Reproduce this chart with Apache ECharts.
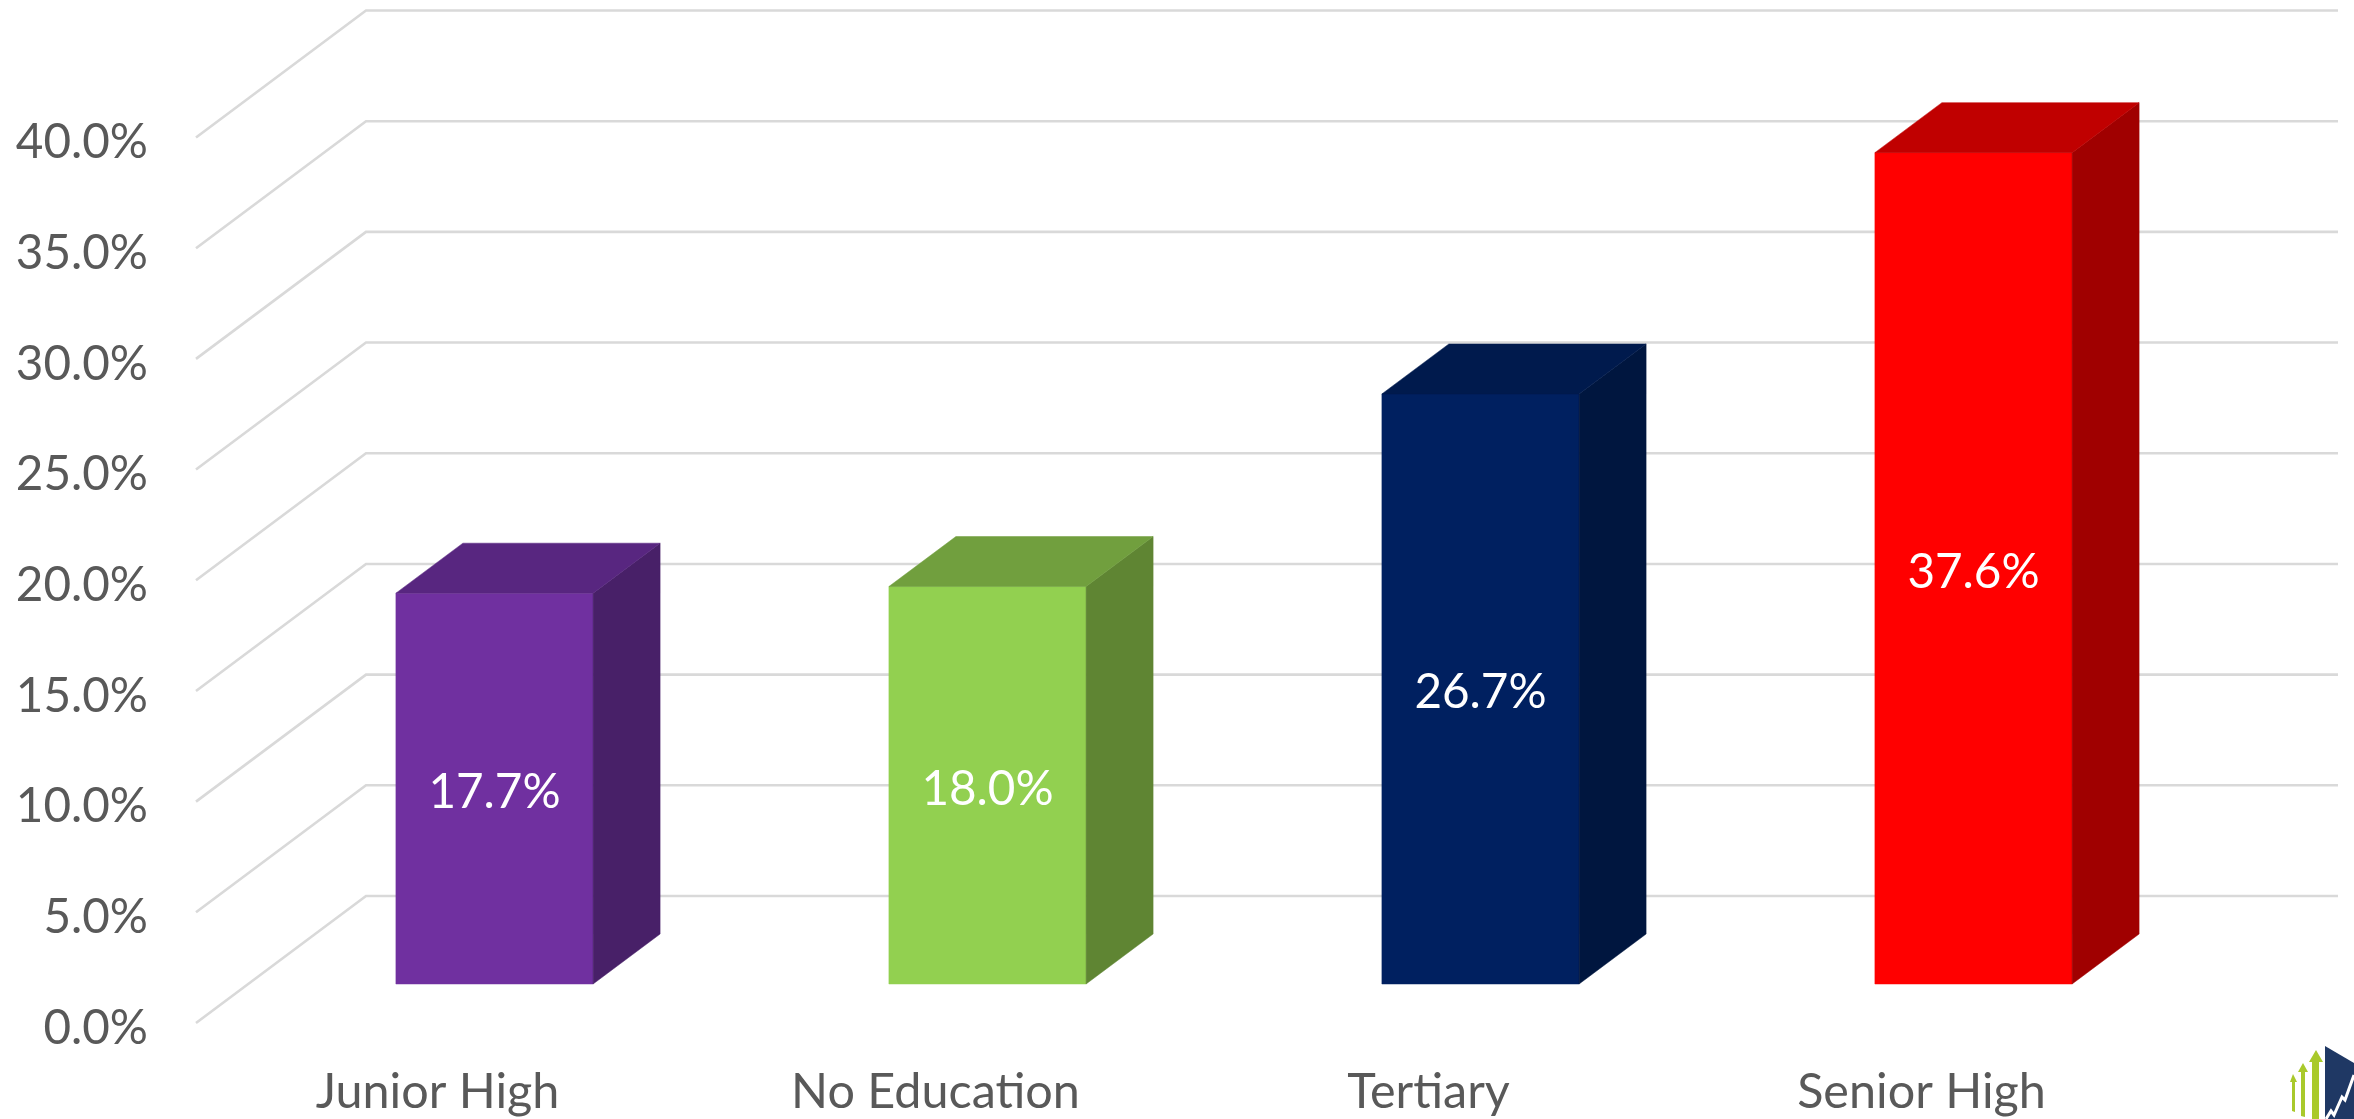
<!DOCTYPE html>
<html>
<head>
<meta charset="utf-8">
<style>html,body{margin:0;padding:0;background:#fff}#c{width:2354px;height:1119px}</style>
<script src="https://cdn.jsdelivr.net/npm/echarts@6/dist/echarts.min.js"></script>
</head>
<body>
<div id="c"></div>
<script>
const categories = ['Junior High', 'No Education', 'Tertiary', 'Senior High'];
const shares = [17.7, 18.0, 26.7, 37.6];
const gridTicks = [0, 5, 10, 15, 20, 25, 30, 35, 40];

const frontColors = ['#7030A0', '#92D050', '#002060', '#FF0000'];
const sideColors = ['#482068', '#5F8533', '#00163F', '#A00000'];
const topColors = ['#582680', '#719F3E', '#001A4D', '#C00000'];

const FONT = 'Lato, Carlito, "Open Sans", sans-serif';
const WALL_DX = 170, WALL_DY = -127;      // floor depth of the 3D wall
const BAR_DX = 52, BAR_DY = -39;          // bar front plane relative to axis plane
const DEPTH_DX = 67, DEPTH_DY = -50;      // bar depth

function renderGrid(params, api) {
  const cs = params.coordSys;
  const y = api.coord([0, api.value(0)])[1];
  return {
    type: 'polyline',
    silent: true,
    shape: { points: [
      [cs.x, y],
      [cs.x + WALL_DX, y + WALL_DY],
      [cs.x + cs.width + WALL_DX, y + WALL_DY]
    ] },
    style: { fill: null, stroke: '#D9D9D9', lineWidth: 2.6 }
  };
}

function renderBar(params, api) {
  const i = api.value(0), v = api.value(1);
  const top = api.coord([i, v]);
  const base = api.coord([i, 0]);
  const w = api.size([1, 0])[0] * 0.4;
  const l = top[0] + BAR_DX - w / 2, r = l + w;
  const t = top[1] + BAR_DY + 1, b = base[1] + BAR_DY;
  const poly = (pts, fill) => ({
    type: 'polygon', shape: { points: pts },
    style: { fill: fill, stroke: fill, lineWidth: 0.5 }
  });
  return {
    type: 'group',
    children: [
      poly([[l, b], [r, b], [r, t], [l, t]], frontColors[i]),
      poly([[r, b], [r + DEPTH_DX, b + DEPTH_DY], [r + DEPTH_DX, t + DEPTH_DY], [r, t]], sideColors[i]),
      poly([[l, t], [r, t], [r + DEPTH_DX, t + DEPTH_DY], [l + DEPTH_DX, t + DEPTH_DY]], topColors[i]),
      {
        type: 'text',
        style: {
          x: (l + r) / 2, y: (t + b) / 2 + 4,
          text: v.toFixed(1) + '%',
          fill: '#FFFFFF', font: '47.6px ' + FONT,
          align: 'center', verticalAlign: 'middle'
        }
      }
    ]
  };
}

const chart = echarts.init(document.getElementById('c'), null, { renderer: 'canvas' });
chart.setOption({
  animation: false,
  backgroundColor: '#FFFFFF',
  grid: { left: 196, top: 137.5, width: 1972, height: 885.5, containLabel: false },
  xAxis: {
    type: 'category',
    data: categories,
    axisLine: { show: false },
    axisTick: { show: false },
    axisLabel: {
      color: '#595959', fontSize: 48.5, fontFamily: FONT, margin: 45,
      formatter: (v, i) => i === 0 ? '{j|' + v + '}' : v,
      rich: { j: { color: '#595959', fontSize: 48.5, fontFamily: FONT, padding: [0, 10, 0, 0] } }
    }
  },
  yAxis: {
    type: 'value', min: 0, max: 40, interval: 5,
    axisLine: { show: false },
    axisTick: { show: false },
    splitLine: { show: false },
    axisLabel: {
      color: '#595959', fontFamily: FONT, margin: 48,
      formatter: v => '{a|' + v.toFixed(1) + '%}',
      rich: { a: { color: '#595959', fontSize: 47.6, fontFamily: FONT, padding: [11, 0, 0, 0] } }
    }
  },
  series: [
    {
      type: 'custom', coordinateSystem: 'cartesian2d', clip: false, silent: true, z: 1,
      renderItem: renderGrid,
      encode: { y: 0 },
      data: gridTicks.map(v => [v])
    },
    {
      type: 'custom', coordinateSystem: 'cartesian2d', clip: false, silent: true, z: 2,
      renderItem: renderBar,
      encode: { x: 0, y: 1 },
      data: categories.map((c, i) => [i, shares[i]])
    }
  ],
  graphic: [
    { type: 'polygon', silent: true, shape: { points: [[2325, 1046], [2354, 1063], [2354, 1119], [2325, 1119]] }, style: { fill: '#1F3864' } },
    { type: 'polyline', silent: true, shape: { points: [[2326, 1119], [2331, 1111], [2334, 1115], [2342, 1097], [2345, 1100], [2354, 1075]] }, style: { fill: null, stroke: '#FFFFFF', lineWidth: 3 } },
    { type: 'polygon', silent: true, shape: { points: [[2316, 1050], [2323, 1062], [2319, 1062], [2319, 1119], [2312, 1119], [2312, 1062], [2309, 1062]] }, style: { fill: '#A9C92B' } },
    { type: 'polygon', silent: true, shape: { points: [[2303, 1063], [2308, 1072], [2305, 1072], [2305, 1117], [2301, 1116], [2301, 1072], [2298, 1072]] }, style: { fill: '#A9C92B' } },
    { type: 'polygon', silent: true, shape: { points: [[2293, 1074], [2297, 1082], [2295, 1082], [2295, 1112], [2292, 1111], [2292, 1082], [2290, 1082]] }, style: { fill: '#A9C92B' } }
  ]
});
</script>
</body>
</html>
